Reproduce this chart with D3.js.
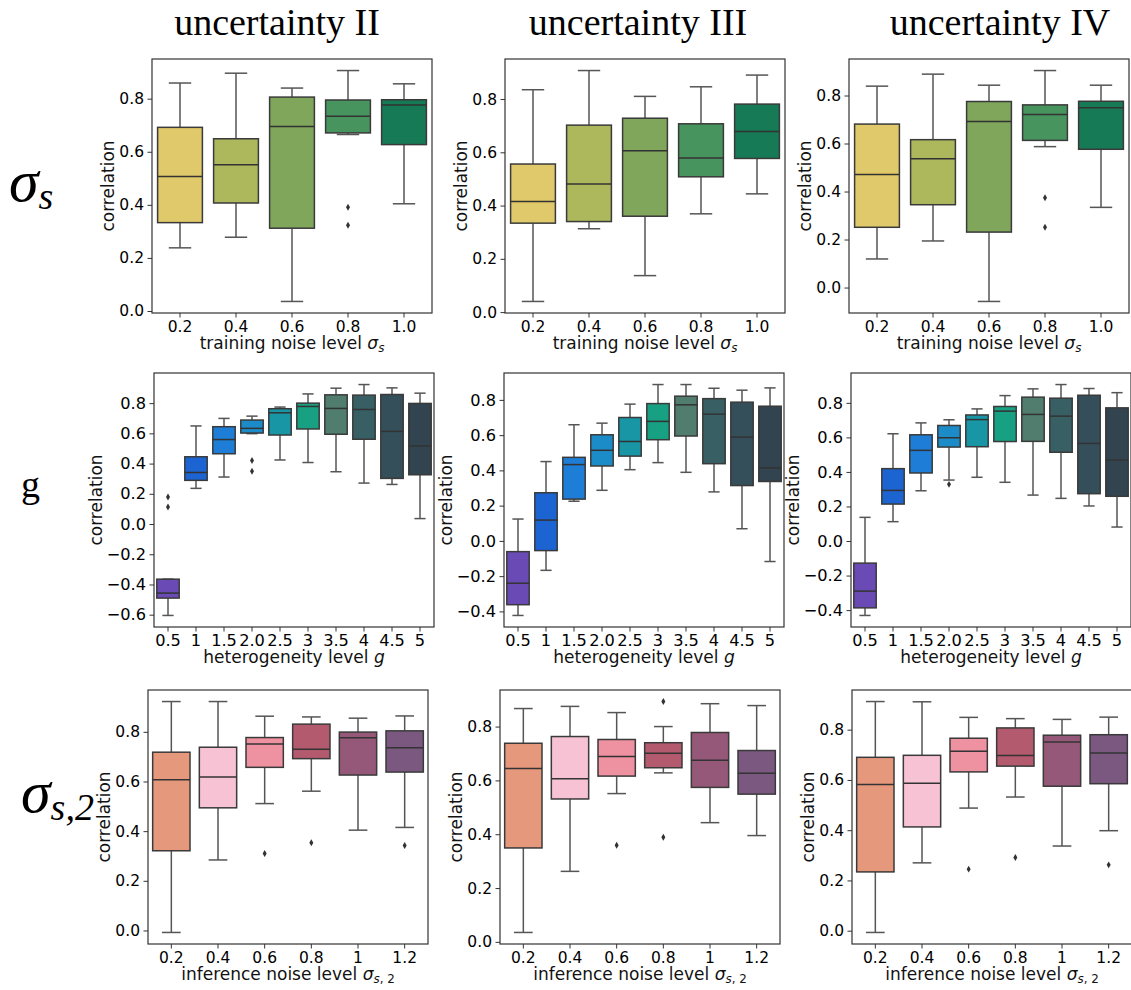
<!DOCTYPE html>
<html>
<head>
<meta charset="utf-8">
<script src="https://cdn.jsdelivr.net/npm/d3@7"></script>
<style>
  body { margin: 0; background: #fff; }
</style>
</head>
<body>
<div id="chart"></div>
<script>
// box stats per category: [whiskerLow, q1, median, q3, whiskerHigh, [outliers]]
var trainLevels = ["0.2", "0.4", "0.6", "0.8", "1.0"];
var hetLevels = ["0.5", "1", "1.5", "2.0", "2.5", "3", "3.5", "4", "4.5", "5"];
var inferLevels = ["0.2", "0.4", "0.6", "0.8", "1", "1.2"];

var trainColors = ["#e0c96a", "#adb85d", "#7fa65b", "#48945f", "#157a55"];
var hetColors = ["#6a4bb5", "#1c64d2", "#1e7dd6", "#1c8cc8", "#1896a5", "#18a082", "#507d6e", "#375f64", "#344e5a", "#324450"];
var inferColors = ["#e6987d", "#f6c2d4", "#ee91a0", "#b45a6e", "#965878", "#7a5880"];

var columnTitles = ["uncertainty II", "uncertainty III", "uncertainty IV"];

var trainII = [
  [0.238, 0.333, 0.507, 0.692, 0.859, []],
  [0.278, 0.407, 0.551, 0.649, 0.896, []],
  [0.036, 0.312, 0.695, 0.806, 0.840, []],
  [0.665, 0.671, 0.734, 0.795, 0.906, [0.391, 0.323]],
  [0.404, 0.627, 0.776, 0.796, 0.856, []]
];
var trainIII = [
  [0.040, 0.334, 0.415, 0.556, 0.835, []],
  [0.313, 0.340, 0.481, 0.702, 0.907, []],
  [0.137, 0.360, 0.606, 0.728, 0.810, []],
  [0.369, 0.508, 0.579, 0.707, 0.846, []],
  [0.444, 0.577, 0.678, 0.781, 0.890, []]
];
var trainIV = [
  [0.119, 0.251, 0.471, 0.681, 0.839, []],
  [0.194, 0.345, 0.537, 0.616, 0.889, []],
  [-0.058, 0.231, 0.692, 0.775, 0.843, []],
  [0.587, 0.613, 0.721, 0.761, 0.904, [0.374, 0.251]],
  [0.334, 0.576, 0.749, 0.776, 0.843, []]
];

var hetII = [
  [-0.605, -0.490, -0.457, -0.365, -0.365, [0.179, 0.113]],
  [0.236, 0.289, 0.341, 0.445, 0.649, []],
  [0.311, 0.465, 0.559, 0.644, 0.699, []],
  [0.598, 0.602, 0.633, 0.688, 0.714, [0.421, 0.349]],
  [0.424, 0.589, 0.736, 0.763, 0.774, []],
  [0.407, 0.629, 0.778, 0.800, 0.861, []],
  [0.346, 0.594, 0.765, 0.855, 0.899, []],
  [0.271, 0.561, 0.758, 0.853, 0.923, []],
  [0.262, 0.302, 0.613, 0.857, 0.901, []],
  [0.036, 0.326, 0.517, 0.798, 0.866, []]
];
var hetIII = [
  [-0.423, -0.362, -0.240, -0.061, 0.124, []],
  [-0.167, -0.055, 0.118, 0.273, 0.450, []],
  [0.225, 0.237, 0.433, 0.474, 0.659, []],
  [0.287, 0.425, 0.514, 0.602, 0.668, []],
  [0.404, 0.481, 0.564, 0.700, 0.776, []],
  [0.444, 0.574, 0.678, 0.779, 0.887, []],
  [0.389, 0.595, 0.772, 0.821, 0.887, []],
  [0.278, 0.438, 0.719, 0.807, 0.866, []],
  [0.069, 0.314, 0.589, 0.787, 0.855, []],
  [-0.117, 0.337, 0.414, 0.764, 0.868, []]
];
var hetIV = [
  [-0.431, -0.387, -0.290, -0.128, 0.137, []],
  [0.112, 0.214, 0.293, 0.419, 0.621, []],
  [0.291, 0.394, 0.525, 0.615, 0.684, []],
  [0.353, 0.544, 0.598, 0.669, 0.702, [0.328]],
  [0.369, 0.546, 0.703, 0.730, 0.765, []],
  [0.340, 0.576, 0.752, 0.779, 0.842, []],
  [0.266, 0.577, 0.733, 0.833, 0.881, []],
  [0.247, 0.514, 0.723, 0.827, 0.906, []],
  [0.203, 0.274, 0.565, 0.844, 0.883, []],
  [0.081, 0.259, 0.469, 0.771, 0.859, []]
];

var inferII = [
  [-0.008, 0.321, 0.607, 0.718, 0.922, []],
  [0.284, 0.494, 0.618, 0.738, 0.922, []],
  [0.511, 0.657, 0.751, 0.777, 0.863, [0.310]],
  [0.561, 0.692, 0.730, 0.831, 0.860, [0.353]],
  [0.404, 0.626, 0.776, 0.799, 0.855, []],
  [0.415, 0.638, 0.736, 0.804, 0.864, [0.342]]
];
var inferIII = [
  [0.035, 0.349, 0.644, 0.738, 0.867, []],
  [0.262, 0.531, 0.606, 0.763, 0.875, []],
  [0.551, 0.616, 0.689, 0.752, 0.852, [0.359]],
  [0.628, 0.647, 0.701, 0.740, 0.800, [0.893, 0.389]],
  [0.443, 0.574, 0.675, 0.778, 0.885, []],
  [0.395, 0.549, 0.627, 0.711, 0.878, []]
];
var inferIV = [
  [-0.007, 0.234, 0.582, 0.690, 0.912, []],
  [0.270, 0.413, 0.587, 0.698, 0.911, []],
  [0.488, 0.632, 0.714, 0.766, 0.849, [0.245]],
  [0.532, 0.655, 0.697, 0.807, 0.844, [0.291]],
  [0.337, 0.575, 0.751, 0.778, 0.841, []],
  [0.398, 0.585, 0.707, 0.780, 0.850, [0.262]]
];

// layout
var W = 1131, H = 990;
var panelW = 280, panelH = 254;
var rows = [
  { levels: trainLevels, colors: trainColors, series: [trainII, trainIII, trainIV],
    top: 59, lefts: [152, 505, 849], tickSize: 15.5, xlabel: "train" },
  { levels: hetLevels, colors: hetColors, series: [hetII, hetIII, hetIV],
    top: 373, lefts: [154, 504, 851], tickSize: 16.2, xlabel: "het" },
  { levels: inferLevels, colors: inferColors, series: [inferII, inferIII, inferIV],
    top: 690, lefts: [148, 500, 852], tickSize: 15.5, xlabel: "infer" }
];

var FONT = "DejaVu Sans, sans-serif";
var SERIF = "Liberation Serif, Times New Roman, serif";
var labelSize = 17;

var svg = d3.select("#chart").append("svg")
  .attr("width", W)
  .attr("height", H)
  .style("background", "#fff");

// column titles
var titleX = [277, 638, 1000];
svg.selectAll(".colTitle")
  .data(columnTitles)
  .join("text")
  .attr("class", "colTitle")
  .attr("x", function(d, i) { return titleX[i]; })
  .attr("y", 35)
  .attr("text-anchor", "middle")
  .attr("font-family", SERIF)
  .attr("font-size", 38)
  .text(function(d) { return d; });

// row labels
var rl1 = svg.append("text").attr("x", 9).attr("y", 201).attr("font-family", SERIF).attr("font-style", "italic");
rl1.append("tspan").attr("font-size", 60).text("σ");
rl1.append("tspan").attr("font-size", 38).attr("dy", 8).text("s");

svg.append("text").attr("x", 21).attr("y", 497)
  .attr("font-family", SERIF).attr("font-size", 38).text("g");

var rl3 = svg.append("text").attr("x", 21).attr("y", 812).attr("font-family", SERIF).attr("font-style", "italic");
rl3.append("tspan").attr("font-size", 60).text("σ");
rl3.append("tspan").attr("font-size", 38).attr("dy", 8).text("s,2");

function xLabel(sel, kind) {
  var t = sel.append("text")
    .attr("font-family", FONT)
    .attr("font-size", labelSize)
    .attr("fill", "#111")
    .attr("text-anchor", "middle");
  if (kind === "train") {
    t.append("tspan").text("training noise level ");
    t.append("tspan").attr("font-style", "italic").text("σ");
    t.append("tspan").attr("font-style", "italic").attr("font-size", labelSize * 0.7).attr("dy", 3).text("s");
  } else if (kind === "het") {
    t.append("tspan").text("heterogeneity level ");
    t.append("tspan").attr("font-style", "italic").text("g");
  } else {
    t.append("tspan").text("inference noise level ");
    t.append("tspan").attr("font-style", "italic").text("σ");
    t.append("tspan").attr("font-style", "italic").attr("font-size", labelSize * 0.7).attr("dy", 3).text("s");
    t.append("tspan").attr("font-size", labelSize * 0.7).text(", 2");
  }
  return t;
}

function drawPanel(row, col) {
  var cfg = rows[row];
  var data = cfg.series[col];
  var g = svg.append("g")
    .attr("transform", "translate(" + cfg.lefts[col] + "," + cfg.top + ")");

  // matplotlib-like autoscale: data range plus 5% margins
  var all = [];
  data.forEach(function(d) { all.push(d[0], d[4]); d[5].forEach(function(o) { all.push(o); }); });
  var lo = d3.min(all), hi = d3.max(all), pad = (hi - lo) * 0.05;
  var y = d3.scaleLinear().domain([lo - pad, hi + pad]).range([panelH, 0]);
  var x = d3.scaleBand().domain(cfg.levels).range([0, panelW]).padding(0);

  var bw = x.bandwidth();
  var boxW = bw * 0.8;
  var ticks = d3.range(Math.ceil((lo - pad) / 0.2 - 1e-9), Math.floor((hi + pad) / 0.2 + 1e-9) + 1)
    .map(function(k) { return Math.round(k * 2) / 10; });

  var boxes = g.selectAll(".box")
    .data(data)
    .join("g")
    .attr("class", "box")
    .attr("transform", function(d, i) { return "translate(" + (x(cfg.levels[i]) + bw / 2) + ",0)"; });

  // whiskers
  boxes.append("line")
    .attr("y1", function(d) { return y(d[3]); })
    .attr("y2", function(d) { return y(d[4]); })
    .attr("stroke", "#555").attr("stroke-width", 1.5);
  boxes.append("line")
    .attr("y1", function(d) { return y(d[1]); })
    .attr("y2", function(d) { return y(d[0]); })
    .attr("stroke", "#555").attr("stroke-width", 1.5);
  // caps
  [0, 4].forEach(function(k) {
    boxes.append("line")
      .attr("x1", -boxW / 4).attr("x2", boxW / 4)
      .attr("y1", function(d) { return y(d[k]); })
      .attr("y2", function(d) { return y(d[k]); })
      .attr("stroke", "#555").attr("stroke-width", 1.5);
  });
  // box body
  boxes.append("rect")
    .attr("x", -boxW / 2)
    .attr("width", boxW)
    .attr("y", function(d) { return y(d[3]); })
    .attr("height", function(d) { return Math.max(0.5, y(d[1]) - y(d[3])); })
    .attr("fill", function(d, i) { return cfg.colors[i]; })
    .attr("stroke", "#3a3a3a")
    .attr("stroke-width", 1.5);
  // median
  boxes.append("line")
    .attr("x1", -boxW / 2).attr("x2", boxW / 2)
    .attr("y1", function(d) { return y(d[2]); })
    .attr("y2", function(d) { return y(d[2]); })
    .attr("stroke", "#333").attr("stroke-width", 1.5);
  // outliers
  boxes.selectAll(".flier")
    .data(function(d) { return d[5]; })
    .join("path")
    .attr("class", "flier")
    .attr("transform", function(v) { return "translate(0," + y(v) + ")"; })
    .attr("d", d3.symbol(d3.symbolDiamond, 14))
    .attr("fill", "#333");

  // axes
  var yAxis = g.append("g")
    .call(d3.axisLeft(y).tickValues(ticks).tickFormat(d3.format(".1f")).tickSize(4.5).tickPadding(3.5));
  var xAxis = g.append("g")
    .attr("transform", "translate(0," + panelH + ")")
    .call(d3.axisBottom(x).tickSize(4.5).tickPadding(3));
  [yAxis, xAxis].forEach(function(a) {
    a.select(".domain").remove();
    a.selectAll("line").attr("stroke", "#333");
    a.selectAll("text").attr("font-family", FONT).attr("font-size", cfg.tickSize).attr("fill", "#000");
  });

  // frame
  g.append("rect")
    .attr("width", panelW).attr("height", panelH)
    .attr("fill", "none").attr("stroke", "#333").attr("stroke-width", 1.2);

  // y label next to tick labels
  var bb = yAxis.node().getBBox();
  g.append("text")
    .attr("transform", "translate(" + (bb.x - 5) + "," + (panelH / 2) + ") rotate(-90)")
    .attr("text-anchor", "middle")
    .attr("font-family", FONT)
    .attr("font-size", labelSize)
    .attr("fill", "#111")
    .text("correlation");

  xLabel(g, cfg.xlabel)
    .attr("x", panelW / 2)
    .attr("y", panelH + 36);
}

for (var r = 0; r < 3; r++) {
  for (var c = 0; c < 3; c++) drawPanel(r, c);
}
</script>
</body>
</html>
